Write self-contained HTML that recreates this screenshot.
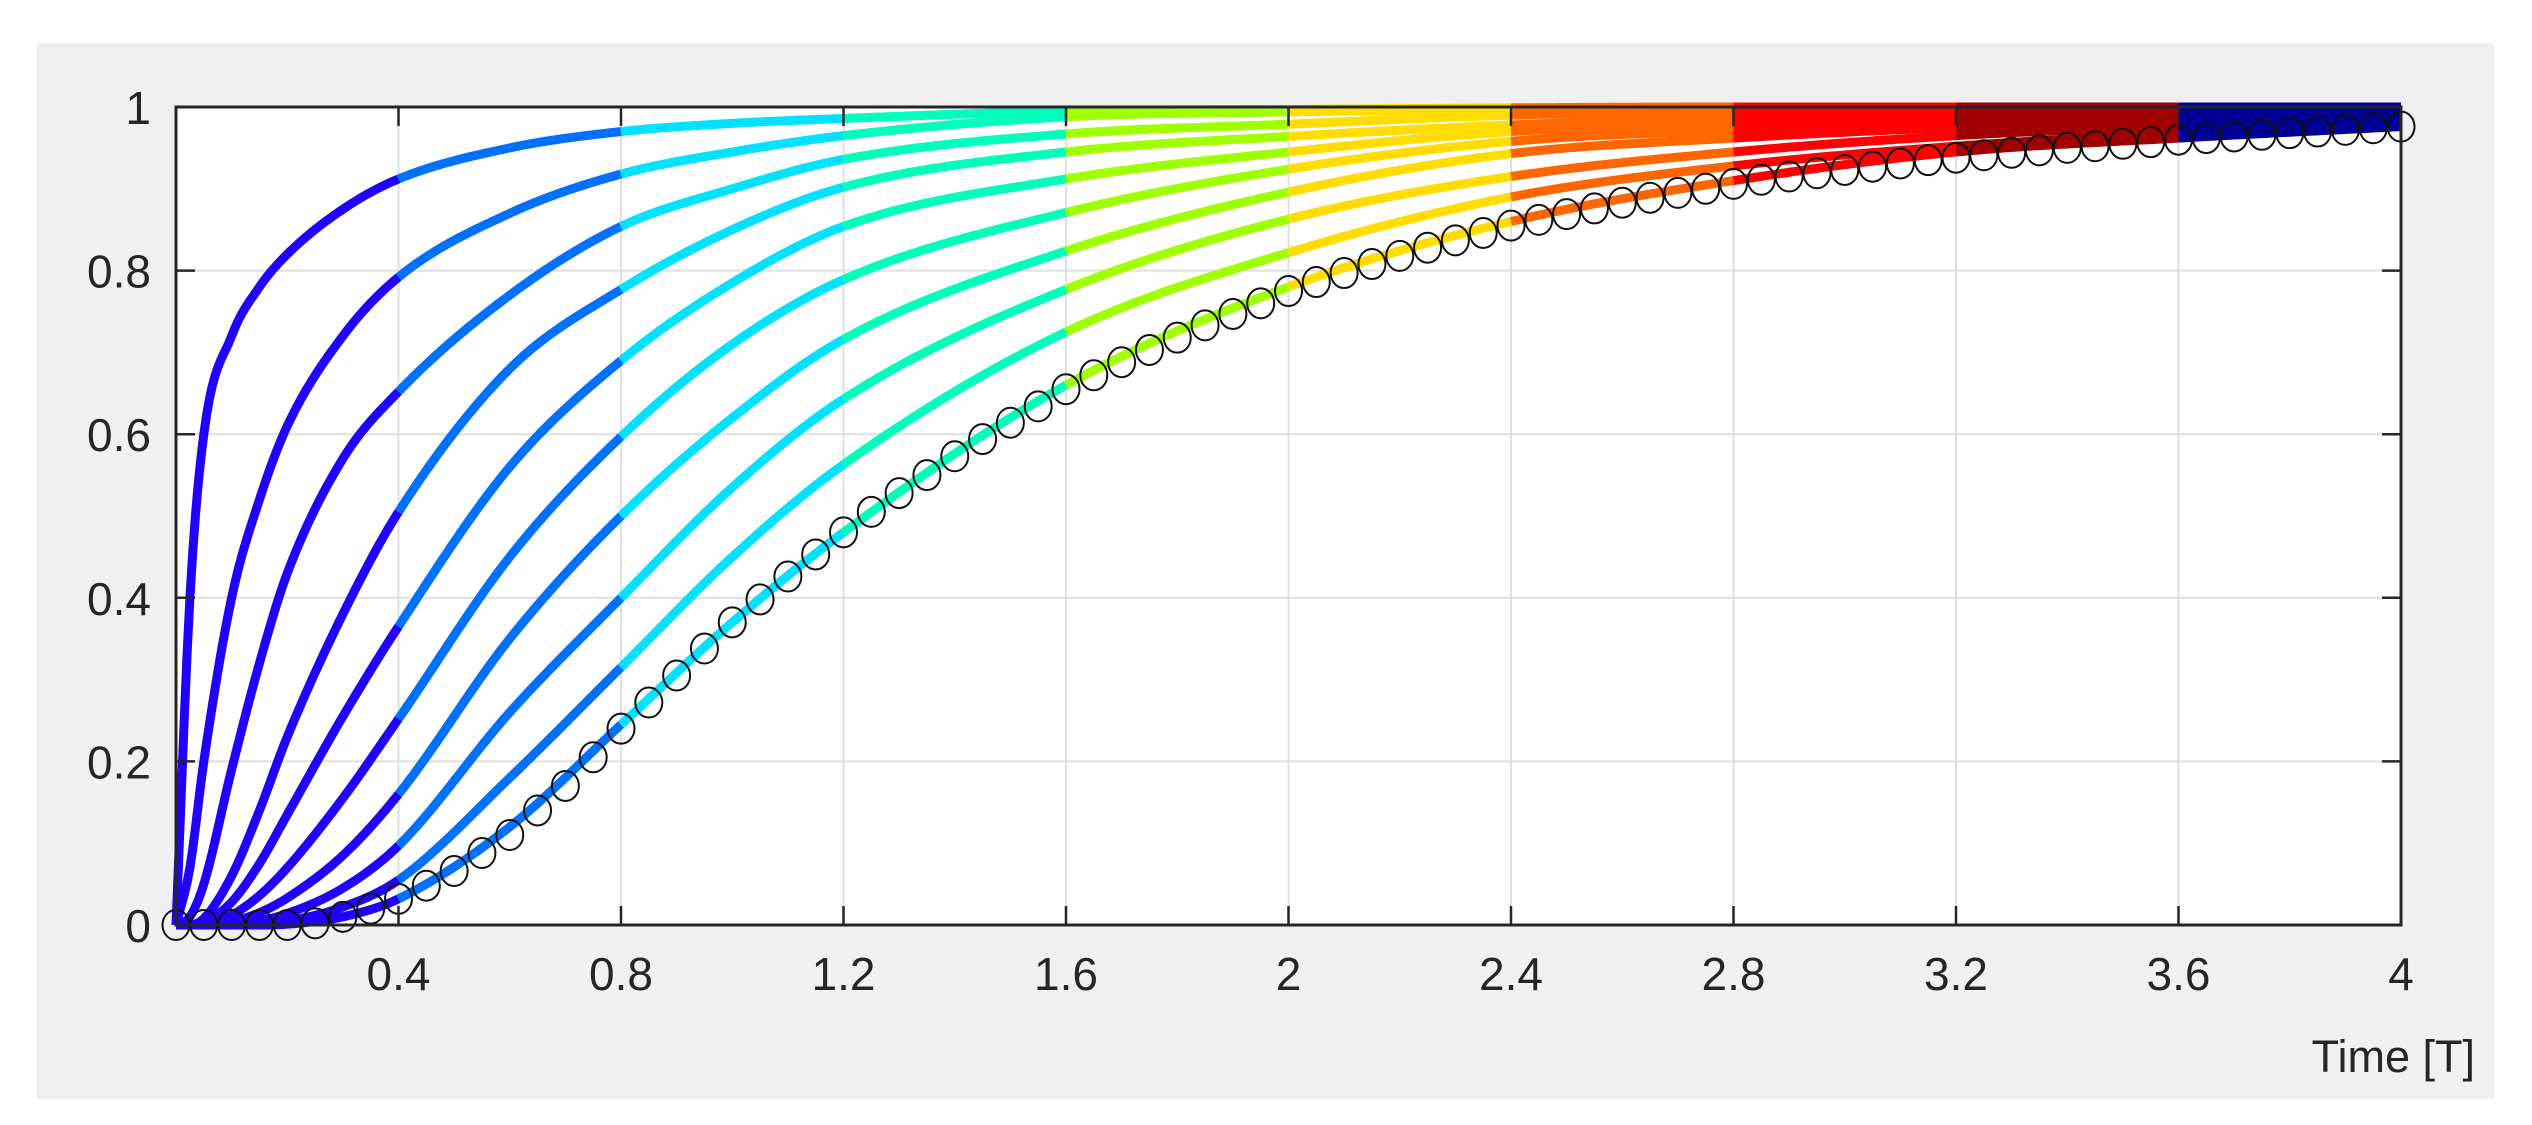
<!DOCTYPE html>
<html><head><meta charset="utf-8"><style>
html,body{margin:0;padding:0;background:#fff;}
svg{display:block;}
text{font-family:"Liberation Sans",Arial,sans-serif;fill:#262626;}
</style></head><body>
<svg id="chart" width="2532" height="1125" viewBox="0 0 2532 1125" xmlns="http://www.w3.org/2000/svg">
<rect x="37" y="43" width="2457" height="1056" fill="#f0f0f0"/>
<rect x="176" y="107" width="2225" height="818" fill="#ffffff"/>
<g id="grid"></g>
<g id="series"></g>
<g id="markers"></g>
<g id="axes"></g>
<text x="2475" y="1072" font-size="45" text-anchor="end">Time [T]</text>
</svg>
<script>
// ---- data ----
const tGrid = [0, 0.025, 0.05, 0.1, 0.15, 0.2, 0.3, 0.4, 0.6, 0.8, 1.0, 1.2, 1.6, 2.0, 2.4, 2.8, 3.2, 3.6, 4.0];
const line1 = [0, .40, .60, .72, .78, .82, .875, .912, .95, .97, .98, .986, .995, .997, .999, 1, 1, 1, 1];
const line2 = [0, .07, .20, .40, .52, .61, .72, .792, .87, .918, .945, .965, .988, .994, .997, .999, 1, 1, 1];
const line3 = [0, .01, .05, .19, .32, .43, .57, .652, .77, .854, .90, .936, .967, .979, .99, .995, .998, .999, 1];
const line4 = [0, 0, .008, .06, .14, .23, .38, .505, .68, .777, .85, .902, .945, .964, .978, .987, .992, .995, .997];
const line5 = [0, 0, .003, .028, .075, .135, .255, .365, .56, .69, .785, .854, .912, .945, .97, .98, .987, .992, .995];
const line6 = [0, 0, 0, .012, .036, .07, .155, .252, .45, .597, .71, .789, .871, .924, .958, .972, .982, .988, .992];
const line7 = [0, 0, 0, .004, .015, .033, .085, .16, .35, .50, .62, .716, .824, .896, .943, .962, .975, .983, .988];
const line8 = [0, 0, 0, .001, .005, .014, .045, .097, .26, .40, .535, .643, .777, .863, .915, .945, .965, .977, .985];
const line9 = [0, 0, 0, 0, .002, .005, .022, .055, .18, .315, .45, .563, .725, .822, .89, .928, .952, .968, .98];
const line10 = [0, 0, 0, 0, 0, .001, .01, .032, .12, .245, .37, .48, .66, .78, .86, .91, .945, .962, .976];
const markerT = [0,.05,.1,.15,.2,.25,.3,.35,.4,.45,.5,.55,.6,.65,.7,.75,.8,.85,.9,.95,1,1.05,1.1,1.15,1.2,1.25,1.3,1.35,1.4,1.45,1.5,1.55,1.6,1.65,1.7,1.75,1.8,1.85,1.9,1.95,2,2.05,2.1,2.15,2.2,2.25,2.3,2.35,2.4,2.45,2.5,2.55,2.6,2.65,2.7,2.75,2.8,2.85,2.9,2.95,3,3.05,3.1,3.15,3.2,3.25,3.3,3.35,3.4,3.45,3.5,3.55,3.6,3.65,3.7,3.75,3.8,3.85,3.9,3.95,4];
const markerY = [0,0,0,0,0,.002,.01,.02,.032,.048,.066,.088,.11,.14,.17,.205,.24,.272,.305,.338,.37,.398,.426,.453,.48,.505,.528,.55,.573,.594,.614,.634,.655,.672,.688,.703,.718,.733,.747,.76,.775,.786,.797,.808,.818,.828,.837,.846,.855,.862,.869,.876,.883,.889,.895,.900,.906,.911,.915,.919,.923,.927,.931,.935,.938,.941,.944,.947,.950,.952,.955,.957,.96,.962,.964,.966,.968,.970,.972,.974,.976];
const segBreaks = [0, 0.4, 0.8, 1.2, 1.6, 2.0, 2.4, 2.8, 3.2, 3.6, 4.0];
const segColors = ['#2200ff','#0070ff','#00e2ff','#00ffbb','#a0ff00','#ffdd00','#ff6600','#ff0000','#a00000','#000095'];
const xTicks = [0.4, 0.8, 1.2, 1.6, 2, 2.4, 2.8, 3.2, 3.6, 4];
const xTickLabels = ['0.4','0.8','1.2','1.6','2','2.4','2.8','3.2','3.6','4'];
const yTicks = [0, 0.2, 0.4, 0.6, 0.8, 1];
const yTickLabels = ['0','0.2','0.4','0.6','0.8','1'];

// ---- axes ----
const X0 = 176, X1 = 2401, Y0 = 925, Y1 = 107;
const xs = t => X0 + (t / 4) * (X1 - X0);
const ys = v => Y0 - v * (Y0 - Y1);
const NS = 'http://www.w3.org/2000/svg';
function mk(tag, attrs, parent) {
  const e = document.createElementNS(NS, tag);
  for (const k in attrs) e.setAttribute(k, attrs[k]);
  parent.appendChild(e);
  return e;
}
const grid = document.getElementById('grid');
const axes = document.getElementById('axes');
const series = document.getElementById('series');
const markers = document.getElementById('markers');

xTicks.forEach((t, i) => {
  if (t < 4) {
    const g = mk('line', {x1: xs(t), x2: xs(t), y1: Y1, y2: Y0, stroke: '#dfdfdf', 'stroke-width': 2}, grid);
    
    
  }
  const tb = mk('line', {x1: xs(t), x2: xs(t), y1: Y0, y2: Y0 - 19, stroke: '#262626', 'stroke-width': 2.5}, axes);
  
  
  const tt = mk('line', {x1: xs(t), x2: xs(t), y1: Y1, y2: Y1 + 19, stroke: '#262626', 'stroke-width': 2.5}, axes);
  
  
  const lb = mk('text', {x: xs(t), y: 990, 'font-size': 46, 'text-anchor': 'middle'}, axes);
  lb.textContent = xTickLabels[i];
  
  
});
yTicks.forEach((v, i) => {
  if (v > 0 && v < 1) {
    const g = mk('line', {x1: X0, x2: X1, y1: ys(v), y2: ys(v), stroke: '#dfdfdf', 'stroke-width': 2}, grid);
    
    
  }
  const tl = mk('line', {x1: X0, x2: X0 + 19, y1: ys(v), y2: ys(v), stroke: '#262626', 'stroke-width': 2.5}, axes);
  
  
  const tr = mk('line', {x1: X1, x2: X1 - 19, y1: ys(v), y2: ys(v), stroke: '#262626', 'stroke-width': 2.5}, axes);
  
  
  const lb = mk('text', {x: 151, y: ys(v) + 17, 'font-size': 46, 'text-anchor': 'end'}, axes);
  lb.textContent = yTickLabels[i];
  
  
});
const box = mk('rect', {x: X0, y: Y1, width: X1 - X0, height: Y0 - Y1, fill: 'none', stroke: '#262626', 'stroke-width': 3}, axes);



// ---- monotone cubic interpolation ----
function monotone(xsArr, ysArr) {
  const n = xsArr.length, d = [], m = new Array(n);
  for (let i = 0; i < n - 1; i++) d.push((ysArr[i+1] - ysArr[i]) / (xsArr[i+1] - xsArr[i]));
  m[0] = d[0]; m[n-1] = d[n-2];
  for (let i = 1; i < n - 1; i++) m[i] = (d[i-1] * d[i] <= 0) ? 0 : (d[i-1] + d[i]) / 2;
  for (let i = 0; i < n - 1; i++) {
    if (d[i] === 0) { m[i] = 0; m[i+1] = 0; continue; }
    const a = m[i] / d[i], b = m[i+1] / d[i], s = a * a + b * b;
    if (s > 9) { const tau = 3 / Math.sqrt(s); m[i] = tau * a * d[i]; m[i+1] = tau * b * d[i]; }
  }
  return function(x) {
    let i = 0;
    while (i < n - 2 && x > xsArr[i+1]) i++;
    const h = xsArr[i+1] - xsArr[i], t = (x - xsArr[i]) / h;
    const t2 = t * t, t3 = t2 * t;
    return (2*t3 - 3*t2 + 1) * ysArr[i] + (t3 - 2*t2 + t) * h * m[i] + (-2*t3 + 3*t2) * ysArr[i+1] + (t3 - t2) * h * m[i+1];
  };
}

const lines = [line1, line2, line3, line4, line5, line6, line7, line8, line9, line10];
lines.forEach((vals, li) => {
  const f = monotone(tGrid, vals);
  for (let s = 0; s < segBreaks.length - 1; s++) {
    const a = segBreaks[s], b = segBreaks[s+1];
    let d = '';
    const N = 80;
    for (let k = 0; k <= N; k++) {
      const t = a + (b - a) * k / N;
      d += (k ? 'L' : 'M') + xs(t).toFixed(2) + ' ' + ys(f(t)).toFixed(2);
    }
    const p = mk('path', {d: d, fill: 'none', stroke: segColors[s], 'stroke-width': 9, 'stroke-linejoin': 'round'}, series);
    
    
  }
});

markerT.forEach((t, i) => {
  const c = mk('ellipse', {cx: xs(t), cy: ys(markerY[i]), rx: 13.5, ry: 15, fill: 'none', stroke: '#111', 'stroke-width': 2}, markers);
  
  
});
</script>
</body></html>
